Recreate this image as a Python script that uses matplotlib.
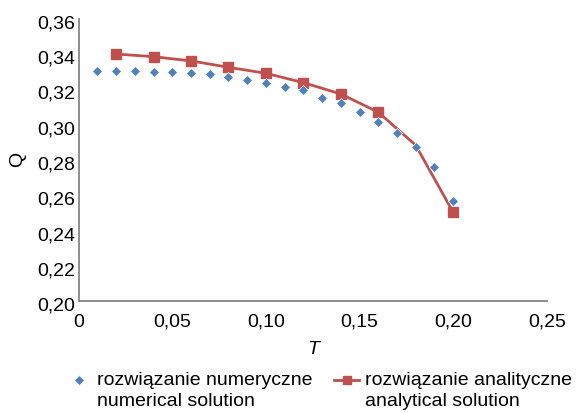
import matplotlib
matplotlib.use("Agg")
import matplotlib.pyplot as plt
from matplotlib.ticker import FuncFormatter, MultipleLocator
import matplotlib.transforms as mtransforms

plt.rcParams['font.family'] = ['Liberation Sans', 'DejaVu Sans']

# Numerical solution Q(T)
t_num = [0.01, 0.02, 0.03, 0.04, 0.05, 0.06, 0.07, 0.08, 0.09, 0.10,
         0.11, 0.12, 0.13, 0.14, 0.15, 0.16, 0.17, 0.18, 0.19, 0.20]
q_num = [0.3305, 0.3305, 0.3305, 0.3297, 0.3297, 0.3293, 0.3286, 0.3269, 0.3252, 0.3235,
         0.3214, 0.3196, 0.3152, 0.3124, 0.3071, 0.3015, 0.2953, 0.2873, 0.2759, 0.2566]

# Analytical solution Q(T)
t_an = [0.02, 0.04, 0.06, 0.08, 0.10, 0.12, 0.14, 0.16, 0.18, 0.20]
q_an = [0.3399, 0.3384, 0.3360, 0.3324, 0.3290, 0.3237, 0.3173, 0.3070, 0.2883, 0.2504]

labels = ["rozwiązanie numeryczne\nnumerical solution",
          "rozwiązanie analityczne\nanalytical solution"]

BLUE = "#4F81BD"
RED = "#C0504D"
AXIS = "#868686"
FS = 14

fig = plt.figure(figsize=(5.78, 4.13), dpi=100)
ax = fig.add_axes([0.1362, 0.2705, 0.9459 - 0.1362, 0.9552 - 0.2705])

an_marks = [i for i in range(len(t_an)) if i != 8]
ax.plot(t_an, q_an, color=RED, lw=2.0, marker='s', ms=7, markevery=an_marks,
        mec=RED, mfc=RED, zorder=2, label=labels[1])
ax.plot(t_num, q_num, ls='none', marker='D', ms=5.6, mfc=BLUE, mec='white',
        mew=0.5, zorder=3, label=labels[0])

ax.set_xlim(0, 0.25)
ax.set_ylim(0.20, 0.36)
ax.xaxis.set_major_locator(MultipleLocator(0.05))
ax.yaxis.set_major_locator(MultipleLocator(0.02))


def fmt(v, _):
    if abs(v) < 1e-9:
        return "0"
    return f"{v:.2f}".replace('.', ',')


ax.xaxis.set_major_formatter(FuncFormatter(fmt))
ax.yaxis.set_major_formatter(FuncFormatter(fmt))
ax.tick_params(axis='both', length=0, labelsize=FS, colors='black')
ax.tick_params(axis='x', pad=9)
ax.tick_params(axis='y', pad=2.5)
for lab in ax.get_yticklabels():
    lab.set_transform(lab.get_transform() +
                      mtransforms.ScaledTranslation(0, -3 / 100, fig.dpi_scale_trans))

for s in ('top', 'right'):
    ax.spines[s].set_visible(False)
for s in ('left', 'bottom'):
    ax.spines[s].set_color(AXIS)
    ax.spines[s].set_linewidth(1.3)

ax.set_xlabel("T", fontsize=FS, style='italic', labelpad=7.5)
ax.set_ylabel("Q", fontsize=FS, labelpad=8)

h, l = ax.get_legend_handles_labels()
leg = fig.legend([h[1], h[0]], [l[1], l[0]], loc='upper left',
                 bbox_to_anchor=(66 / 578, 1 - 372 / 413), ncol=2, frameon=False,
                 fontsize=FS, handlelength=1.3, handleheight=1.2,
                 handletextpad=0.3, columnspacing=1.1,
                 borderpad=0, borderaxespad=0, labelspacing=0.2)
for t in leg.get_texts():
    t.set_linespacing(1.32)
leg.legend_handles[1].set_markersize(5.6)
leg.legend_handles[0].set_markersize(5)
leg.legend_handles[0].set_linewidth(3)
# put each legend key beside the first line of its two-line label
for col in leg._legend_handle_box.get_children():
    for item in col.get_children():
        item.align = "top"

fig.savefig("out.png", dpi=100)
